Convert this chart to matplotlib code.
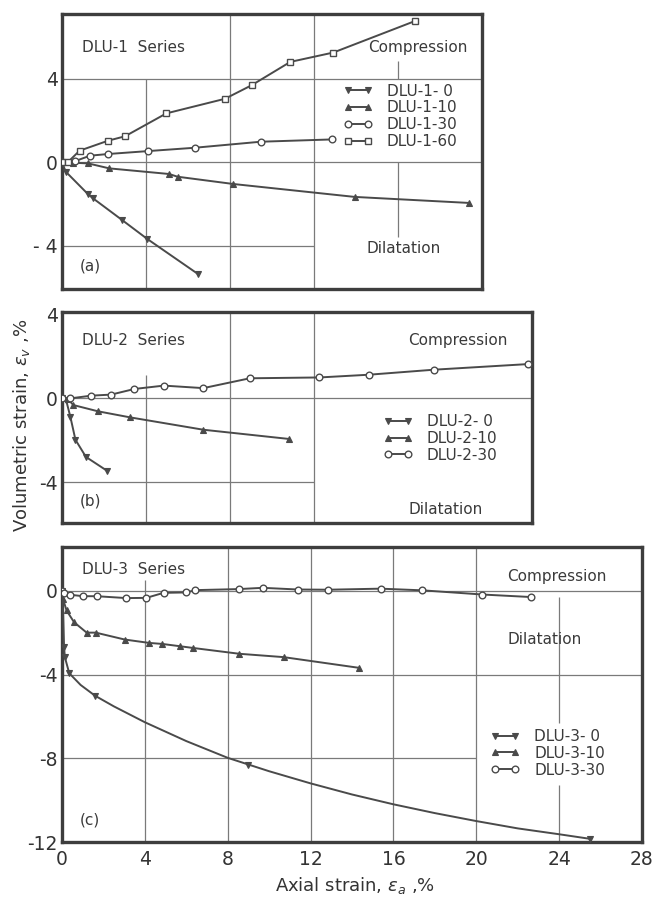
import matplotlib
matplotlib.use('Agg')
import matplotlib.pyplot as plt

plt.rcParams['font.family'] = ['DejaVu Sans']

# ---------------- data ----------------
# Panel (a) DLU-1 series
a0_x = [0, 0.18, 1.24, 1.48, 2.85, 4.05, 6.46]
a0_y = [0, -0.45, -1.53, -1.73, -2.76, -3.67, -5.35]
a10_x = [0, 0.5, 1.24, 2.25, 5.1, 5.5, 8.16, 13.94, 19.4]
a10_y = [0, -0.02, -0.05, -0.29, -0.56, -0.69, -1.04, -1.66, -1.95]
a30_x = [0, 0.6, 1.34, 2.2, 4.1, 6.32, 9.47, 12.88]
a30_y = [0, 0.05, 0.32, 0.4, 0.54, 0.70, 0.99, 1.10]
a60_x = [0, 0.3, 0.84, 2.2, 3.0, 4.97, 7.76, 9.03, 10.87, 12.92, 16.83]
a60_y = [0, 0.03, 0.56, 1.04, 1.25, 2.35, 3.05, 3.7, 4.82, 5.27, 6.79]

# Panel (b) DLU-2 series
b0_x = [0, 0.2, 0.4, 0.64, 1.14, 2.14]
b0_y = [0, -0.1, -0.89, -1.98, -2.8, -3.46]
b10_x = [0, 0.3, 0.54, 1.72, 3.25, 6.73, 10.8]
b10_y = [0, -0.05, -0.32, -0.62, -0.91, -1.5, -1.94]
b30_x = [0, 0.4, 1.4, 2.34, 3.45, 4.85, 6.73, 8.94, 12.26, 14.6, 17.7, 22.2]
b30_y = [0, 0.0, 0.13, 0.18, 0.45, 0.61, 0.49, 0.96, 1.0, 1.13, 1.37, 1.64]

# Panel (c) DLU-3 series
c0_x = [0, 0.05, 0.1, 0.14, 0.35, 0.9, 1.59, 2.5, 4.0, 6.0, 8.0, 9.0, 10.0, 12.0,
        14.0, 16.0, 18.0, 20.0, 22.0, 24.0, 25.5]
c0_y = [0, -1.0, -2.7, -3.18, -3.94, -4.5, -5.01, -5.52, -6.28, -7.18, -7.98, -8.3,
        -8.62, -9.2, -9.73, -10.2, -10.62, -11.0, -11.35, -11.63, -11.85]
c0_marked = [0, 2, 3, 4, 6, 11, 20]
c10_x = [0, 0.05, 0.22, 0.58, 1.19, 1.63, 3.03, 4.2, 4.84, 5.7, 6.31, 8.56, 10.7, 14.33]
c10_y = [0, -0.4, -0.94, -1.5, -2.0, -2.0, -2.33, -2.49, -2.54, -2.65, -2.73, -3.01, -3.17, -3.68]
c30_x = [0, 0.1, 0.38, 1.02, 1.67, 3.11, 4.07, 4.9, 6.0, 6.44, 8.53, 9.69, 11.38,
         12.86, 15.38, 17.4, 20.3, 22.64]
c30_y = [0, -0.1, -0.19, -0.26, -0.26, -0.35, -0.34, -0.1, -0.08, 0.03, 0.08, 0.14,
         0.06, 0.05, 0.1, 0.02, -0.18, -0.3]

a_labels = ['DLU-1- 0', 'DLU-1-10', 'DLU-1-30', 'DLU-1-60']
b_labels = ['DLU-2- 0', 'DLU-2-10', 'DLU-2-30']
c_labels = ['DLU-3- 0', 'DLU-3-10', 'DLU-3-30']

x_ticks = [0, 4, 8, 12, 16, 20, 24, 28]
a_yticks = [4, 0, -4]
b_yticks = [4, 0, -4]
c_yticks = [0, -4, -8, -12]

# ---------------- style ----------------
INK = '#4a4a4a'
GRID = '#7a7a7a'
SPINE = '#3e3e3e'
FS_TXT = 11
FS_TICK = 13.5

fig = plt.figure(figsize=(6.6, 9.02), dpi=100)
fig.patch.set_facecolor('white')

ax_a = fig.add_axes([62/660, 1-289/902, 420/660, 275/902])
ax_b = fig.add_axes([62/660, 1-523/902, 470/660, 211/902])
ax_c = fig.add_axes([62/660, 1-842/902, 580/660, 295/902])

ax_a.set_xlim(0, 20); ax_a.set_ylim(-6.08, 7.12)
ax_b.set_xlim(0, 22.38); ax_b.set_ylim(-5.96, 4.13)
ax_c.set_xlim(0, 28); ax_c.set_ylim(-12, 2.09)

for ax in (ax_a, ax_b, ax_c):
    for s in ax.spines.values():
        s.set_linewidth(2.4)
        s.set_color(SPINE)
    ax.tick_params(length=0, labelsize=FS_TICK, colors='#333333', pad=3)
    ax.set_facecolor('white')

ax_a.set_xticks([]); ax_b.set_xticks([])
ax_a.set_yticks(a_yticks); ax_a.set_yticklabels(['4', '0', '- 4'])
ax_b.set_yticks(b_yticks); ax_b.set_yticklabels(['4', '0', '-4'])
ax_c.set_yticks(c_yticks); ax_c.set_yticklabels(['0', '-4', '-8', '-12'])
ax_c.set_xticks(x_ticks); ax_c.set_xticklabels([str(t) for t in x_ticks])
ax_c.tick_params(axis='x', pad=6)

glw = 0.9
# partial grid lines (graph-paper style)
# panel a
ax_a.vlines(4, -6.08, 4, color=GRID, lw=glw, zorder=1)
ax_a.vlines([8, 12], -6.08, 7.12, color=GRID, lw=glw, zorder=1)
ax_a.vlines(16, 4, 4.87, color=GRID, lw=glw, zorder=1)
ax_a.vlines(16, -3.6, 0, color=GRID, lw=glw, zorder=1)
ax_a.hlines([4, 0], 0, 20, color=GRID, lw=glw, zorder=1)
ax_a.hlines(-4, 0, 12, color=GRID, lw=glw, zorder=1)
# panel b
ax_b.vlines(4, -5.96, 1.13, color=GRID, lw=glw, zorder=1)
ax_b.vlines([8, 12], -5.96, 4.13, color=GRID, lw=glw, zorder=1)
ax_b.hlines(0, 0, 22.38, color=GRID, lw=glw, zorder=1)
ax_b.hlines(-4, 0, 12, color=GRID, lw=glw, zorder=1)
# panel c
ax_c.vlines(4, -12, 0.5, color=GRID, lw=glw, zorder=1)
ax_c.vlines([8, 12, 16, 20], -12, 2.09, color=GRID, lw=glw, zorder=1)
ax_c.vlines(24, -6.3, -0.3, color=GRID, lw=glw, zorder=1)
ax_c.vlines(24, -12, -9.3, color=GRID, lw=glw, zorder=1)
ax_c.hlines([0, -4], 0, 28, color=GRID, lw=glw, zorder=1)
ax_c.hlines(-8, 0, 20, color=GRID, lw=glw, zorder=1)

lw = 1.4
ms = 4.8
def style(marker):
    if marker in ('o', 's'):
        return dict(marker=marker, mfc='white', mec=INK, mew=1.0, ms=ms,
                    color=INK, lw=lw)
    return dict(marker=marker, mfc=INK, mec=INK, mew=0.8, ms=ms,
                color=INK, lw=lw)

ax_a.plot(a0_x, a0_y, label=a_labels[0], zorder=3, **style('v'))
ax_a.plot(a10_x, a10_y, label=a_labels[1], zorder=3, **style('^'))
ax_a.plot(a30_x, a30_y, label=a_labels[2], zorder=3, **style('o'))
ax_a.plot(a60_x, a60_y, label=a_labels[3], zorder=3, **style('s'))

ax_b.plot(b0_x, b0_y, label=b_labels[0], zorder=3, **style('v'))
ax_b.plot(b10_x, b10_y, label=b_labels[1], zorder=3, **style('^'))
ax_b.plot(b30_x, b30_y, label=b_labels[2], zorder=3, **style('o'))

ax_c.plot(c0_x, c0_y, label=c_labels[0], zorder=3, markevery=c0_marked, **style('v'))
ax_c.plot(c10_x, c10_y, label=c_labels[1], zorder=3, **style('^'))
ax_c.plot(c30_x, c30_y, label=c_labels[2], zorder=3, **style('o'))

leg_kw = dict(frameon=False, numpoints=2, handlelength=1.9, handletextpad=0.95,
              labelspacing=0.12, borderpad=0, borderaxespad=0, fontsize=FS_TXT,
              loc='upper left')
la = ax_a.legend(bbox_to_anchor=(13.4, 3.78), bbox_transform=ax_a.transData, **leg_kw)
lb = ax_b.legend(bbox_to_anchor=(15.3, -0.75), bbox_transform=ax_b.transData, **leg_kw)
lc = ax_c.legend(bbox_to_anchor=(20.7, -6.6), bbox_transform=ax_c.transData, **leg_kw)
for lg in (la, lb, lc):
    for t in lg.get_texts():
        t.set_color('#3a3a3a')

tk = dict(fontsize=FS_TXT, color='#3a3a3a', va='center')
ax_a.text(0.94, 5.51, 'DLU-1  Series', **tk)
ax_a.text(14.6, 5.51, 'Compression', **tk)
ax_a.text(14.5, -4.12, 'Dilatation', **tk)
ax_a.text(0.84, -5.0, '(a)', **tk)

ax_b.text(0.94, 2.78, 'DLU-2  Series', **tk)
ax_b.text(16.5, 2.78, 'Compression', **tk)
ax_b.text(16.5, -5.3, 'Dilatation', **tk)
ax_b.text(0.84, -4.9, '(b)', **tk)

ax_c.text(0.95, 1.0, 'DLU-3  Series', **tk)
ax_c.text(21.5, 0.68, 'Compression', **tk)
ax_c.text(21.5, -2.34, 'Dilatation', **tk)
ax_c.text(0.85, -10.97, '(c)', **tk)

fig.text(22/660, 1-425/902, r'Volumetric strain, $\epsilon_v$ ,%', rotation=90,
         ha='center', va='center', fontsize=13, color='#333333')
fig.text(355/660, 1-885/902, r'Axial strain, $\epsilon_a$ ,%', ha='center',
         va='center', fontsize=13, color='#333333')

fig.savefig('out.png', dpi=100, facecolor='white')
